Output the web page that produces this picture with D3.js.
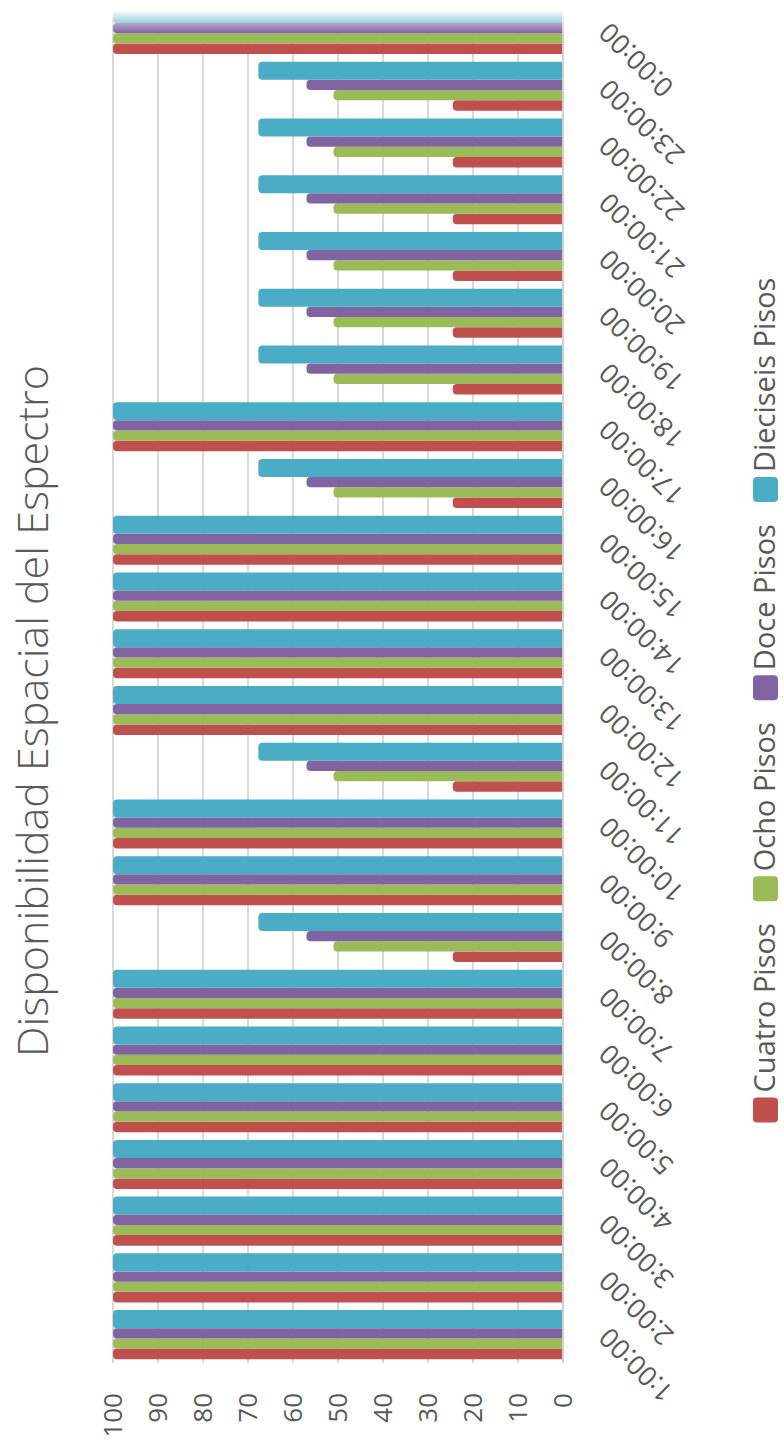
<!DOCTYPE html>
<html>
<head>
<meta charset="utf-8">
<script src="https://cdn.jsdelivr.net/npm/d3@7"></script>
<style>
  html, body { margin: 0; padding: 0; background: #fff; }
  svg { display: block; }
  text { font-family: "Open Sans", "Noto Sans", sans-serif; fill: #595959; }
</style>
</head>
<body>
<svg id="chart" width="784" height="1441"></svg>
<script>
// ---------------- DATA ----------------
const title = "Disponibilidad Espacial del Espectro";
const categories = ["1:00:00","2:00:00","3:00:00","4:00:00","5:00:00","6:00:00","7:00:00","8:00:00",
  "9:00:00","10:00:00","11:00:00","12:00:00","13:00:00","14:00:00","15:00:00","16:00:00",
  "17:00:00","18:00:00","19:00:00","20:00:00","21:00:00","22:00:00","23:00:00","0:00:00"];
const seriesNames = ["Cuatro Pisos","Ocho Pisos","Doce Pisos","Dieciseis Pisos"];
const cuatroPisos    = [100,100,100,100,100,100,100,24.5,100,100,24.5,100,100,100,100,24.5,100,24.5,24.5,24.5,24.5,24.5,24.5,100];
const ochoPisos      = [100,100,100,100,100,100,100,51,  100,100,51,  100,100,100,100,51,  100,51,  51,  51,  51,  51,  51,  100];
const docePisos      = [100,100,100,100,100,100,100,57,  100,100,57,  100,100,100,100,57,  100,57,  57,  57,  57,  57,  57,  100];
const dieciseisPisos = [100,100,100,100,100,100,100,67.7,100,100,67.7,100,100,100,100,67.7,100,67.7,67.7,67.7,67.7,67.7,67.7,100];
const valueTicks = [0,10,20,30,40,50,60,70,80,90,100];

// ---------------- STYLE ----------------
const seriesValues = [cuatroPisos, ochoPisos, docePisos, dieciseisPisos];
const colors = ["#C0504D", "#9BBB59", "#8064A2", "#4BACC6"];
const thicknessWeights = [10.5, 10.1, 10.3, 18];   // relative bar thickness per series
const gridColor = "#D9D9D9";

const svg = d3.select("#chart");

// value scale (horizontal, 0 at right)
const x = d3.scaleLinear().domain([0, 100]).range([563, 113]);
// category scale (vertical, first category at bottom)
const y = d3.scaleBand().domain(categories).range([1363, 1.1]).paddingInner(0.136).paddingOuter(0.068);

// sub positions inside a band: order from top: cyan, purple, green, red
const stackOrder = [3, 2, 1, 0];
const totalW = d3.sum(thicknessWeights);
const sub = d3.scaleLinear().domain([0, totalW]).range([0, y.bandwidth()]);
const offsets = {};
let acc = 0;
stackOrder.forEach(s => { offsets[s] = acc; acc += thicknessWeights[s]; });

const plotTop = y.range()[1], plotBottom = y.range()[0];

// gridlines
svg.append("g").selectAll("line").data(valueTicks.filter(v => v > 0)).join("line")
  .attr("x1", d => x(d)).attr("x2", d => x(d))
  .attr("y1", plotTop).attr("y2", plotBottom)
  .attr("stroke", gridColor).attr("stroke-width", 2);

// bars
function barPath(x0, x1, y0, h, r) {
  r = Math.min(r, h / 2, Math.max(0, (x1 - x0) / 2));
  return `M${x1},${y0}H${x0 + r}Q${x0},${y0} ${x0},${y0 + r}V${y0 + h - r}Q${x0},${y0 + h} ${x0 + r},${y0 + h}H${x1}Z`;
}
const barData = [];
categories.forEach((c, i) => {
  seriesValues.forEach((vals, s) => barData.push({ c, s, v: vals[i] }));
});
svg.append("g").selectAll("path").data(barData).join("path")
  .attr("d", d => {
    const y0 = y(d.c) + sub(offsets[d.s]);
    const h = sub(thicknessWeights[d.s]) - sub(0);
    return barPath(x(d.v), x(0), y0, h, 4);
  })
  .attr("fill", d => colors[d.s]);

// category axis line (at value 0)
svg.append("line")
  .attr("x1", x(0)).attr("x2", x(0))
  .attr("y1", plotTop).attr("y2", plotBottom)
  .attr("stroke", "#D0D0D0").attr("stroke-width", 2);

// top fade
const defs = svg.append("defs");
const grad = defs.append("linearGradient").attr("id", "fade").attr("x1", 0).attr("x2", 0).attr("y1", 0).attr("y2", 1);
grad.append("stop").attr("offset", "0%").attr("stop-color", "#fff").attr("stop-opacity", 1);
grad.append("stop").attr("offset", "30%").attr("stop-color", "#fff").attr("stop-opacity", 1);
grad.append("stop").attr("offset", "100%").attr("stop-color", "#fff").attr("stop-opacity", 0);
svg.append("rect").attr("x", 100).attr("y", 0).attr("width", 480).attr("height", 33).attr("fill", "url(#fade)");

// value tick labels (rotated)
svg.append("g").selectAll("text").data(valueTicks).join("text")
  .attr("transform", d => `translate(${x(d)},1393) rotate(-90)`)
  .attr("text-anchor", "end")
  .attr("dy", "0.35em")
  .style("font-size", "26px")
  .text(d => d);

// category labels (rotated)
svg.append("g").selectAll("text").data(categories).join("text")
  .attr("transform", d => `translate(604,${y(d) + y.bandwidth() / 2 - 2}) rotate(-135)`)
  .attr("text-anchor", "end")
  .attr("dy", "0.35em")
  .style("font-size", "27px")
  .text(d => d);

// title
svg.append("text")
  .attr("transform", `translate(48,711) rotate(-90)`)
  .attr("text-anchor", "middle")
  .style("font-size", "43px")
  .style("font-weight", 300)
  .text(title);

// legend (vertical, reading upward)
const legendFont = 29, sw = 25, swGap = 5, itemGap = 22, legendCenter = 700;
const lg = svg.append("g");
const items = lg.selectAll("g").data(seriesNames).join("g");
items.append("text").style("font-size", legendFont + "px").text(d => d);
const widths = [];
items.select("text").each(function () { widths.push(this.getComputedTextLength()); });
const totalLen = d3.sum(widths) + seriesNames.length * (sw + swGap) + (seriesNames.length - 1) * itemGap;
let pos = legendCenter + totalLen / 2;   // bottom start
items.each(function (d, i) {
  const g = d3.select(this);
  g.append("rect")
    .attr("x", 753).attr("y", pos - sw).attr("width", sw).attr("height", sw)
    .attr("rx", 4).attr("fill", colors[i]);
  g.select("text")
    .attr("transform", `translate(775,${pos - sw - swGap}) rotate(-90)`)
    .attr("text-anchor", "start");
  pos -= sw + swGap + widths[i] + itemGap;
});
</script>
</body>
</html>
